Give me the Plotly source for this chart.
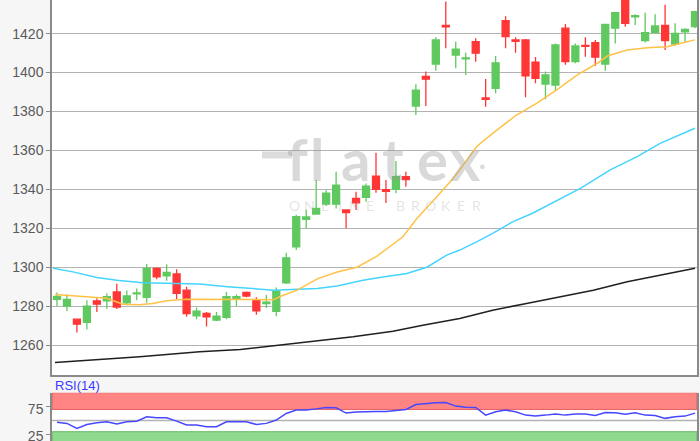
import plotly.graph_objects as go

# ---- data ----
idx = list(range(65))
opens = [1283.5, 1280, 1273.3, 1271.6, 1282.7, 1282.7, 1287.3, 1281.7, 1286.3, 1284.5,
         1299.4, 1295.6, 1296.5, 1288.2, 1275, 1276.2, 1272.8, 1274.2, 1283.5, 1287,
         1283, 1281.3, 1277.3, 1292, 1310.5, 1324.6, 1327.3, 1332.4, 1332.4, 1329.4,
         1335.4, 1335.9, 1346.8, 1339.8, 1340, 1346.5, 1382.8, 1398, 1404.4, 1424.3,
         1409, 1407, 1415.9, 1387, 1391.9, 1426.7, 1416.8, 1416.8, 1405.4, 1394.1,
         1393.6, 1422.8, 1405.6, 1414, 1415.4, 1404.4, 1422.8, 1438, 1428.7, 1416.4,
         1420.5, 1424.3, 1414.7, 1420.9, 1423.6]
highs = [1287, 1286, 1273.5, 1283, 1284, 1286.5, 1291.5, 1288, 1289, 1301.6,
         1300, 1301.5, 1299, 1290, 1279.3, 1277, 1277, 1287.3, 1286, 1287.5,
         1284.5, 1285.7, 1289.6, 1307.4, 1327, 1329.5, 1344.8, 1339.6, 1349, 1329.6,
         1338.8, 1343, 1358.8, 1344.8, 1354.6, 1349, 1394, 1400.5, 1418.2, 1436.5,
         1416, 1410.2, 1417.6, 1396.7, 1408.5, 1429, 1418.2, 1417.2, 1408, 1400.5,
         1415, 1425, 1415, 1418.2, 1416.8, 1425, 1431, 1441, 1430, 1430.8,
         1430, 1434.8, 1425.3, 1422.8, 1431.8]
lows = [1280, 1277.5, 1266.5, 1268, 1277, 1278.5, 1278.5, 1280.5, 1283, 1281.7,
        1293.8, 1293, 1283.6, 1274.5, 1273.3, 1269.5, 1272.3, 1273.2, 1280, 1284.5,
        1275.5, 1279, 1274.8, 1291.3, 1308.8, 1320, 1327, 1331.4, 1330.2, 1320,
        1329.4, 1333.6, 1338.3, 1333, 1338, 1341.3, 1378.2, 1382.8, 1401, 1412.5,
        1402.2, 1398.8, 1405.6, 1382.5, 1389.4, 1412.5, 1410.2, 1387.3, 1394.5, 1386.3,
        1390.7, 1404, 1404.8, 1408.2, 1403.4, 1401, 1415, 1423.6, 1424.5, 1415.4,
        1420.2, 1411.6, 1413.7, 1415.4, 1422.8]
closes = [1285, 1283.5, 1270.7, 1280, 1281, 1284.8, 1279.5, 1285.2, 1286.8, 1299.4,
          1295, 1297.3, 1286.5, 1276.2, 1277.4, 1274.5, 1274.8, 1284.8, 1284.8, 1285.2,
          1277.6, 1282, 1287.7, 1304.8, 1326, 1325.8, 1330.2, 1338, 1342.2, 1328,
          1333.1, 1341.7, 1340, 1339, 1346.5, 1345, 1391, 1396.6, 1416.8, 1423.5,
          1412, 1407.6, 1410, 1386.3, 1405, 1418.5, 1416, 1398.3, 1397, 1398.8,
          1414.2, 1405.6, 1413.7, 1413.5, 1407.9, 1424.8, 1430.8, 1425.3, 1429.3, 1420.5,
          1424, 1416.4, 1420.2, 1422.2, 1431.3]

ma_fast_x = [-0.2, 1, 3, 5, 6.6, 8.3, 9.6, 11, 13, 18.4, 21.7, 22.7, 24.1, 26.1, 28.1,
             30.1, 32.1, 34.7, 36.1, 38.1, 39.6, 40.4, 42.1, 43.7, 46.1, 48.1, 50.2,
             52.2, 54.2, 55.2, 57.2, 59.2, 61.2, 62.5, 64]
ma_fast = [1286, 1285.6, 1284.8, 1284, 1281, 1280.7, 1281.4, 1282.7, 1283.5, 1283.5,
           1283.3, 1285.6, 1288.2, 1294, 1297.5, 1300, 1305.7, 1315.6, 1325, 1336.2,
           1344.8, 1350, 1362, 1368.8, 1378.2, 1384.2, 1391.4, 1398.8, 1404.8, 1408.5,
           1411.6, 1412.8, 1413.3, 1415, 1416.8]

ma_mid_x = [-0.4, 1.6, 4.0, 6.0, 8.6, 11.6, 14.3, 17.1, 18.4, 21.7, 24.1, 26.1, 28.1,
            30.7, 32.7, 35.1, 37.1, 39.1, 40.4, 42.1, 43.7, 45.7, 47.7, 50.2, 52.5,
            55.5, 58.2, 60.5, 64]
ma_mid = [1299.4, 1297.6, 1294.7, 1293.3, 1292, 1291.7, 1291.3, 1290, 1289.6, 1288.2,
          1288.6, 1289.1, 1290.3, 1293.3, 1295, 1296.8, 1300, 1306.2, 1308.8, 1313,
          1317.4, 1323.3, 1327.7, 1334.5, 1340.5, 1350, 1356.8, 1363.6, 1371.4]

ma_slow_x = [-0.2, 2.3, 5.3, 8.3, 11.3, 14.3, 18.4, 21.7, 25.7, 29.7, 33.7, 36.7, 40.4,
             43.7, 47.1, 50.5, 53.8, 57.2, 60.5, 64]
ma_slow = [1251, 1251.9, 1252.7, 1254, 1255.3, 1256.5, 1257.7, 1259.6, 1261.6, 1264.2,
           1267.1, 1270.2, 1273.6, 1277.9, 1281.4, 1284.8, 1288.2, 1292.5, 1295.9, 1299.4]

rsi = [46.8, 45, 36, 43, 46, 47.9, 43.8, 47.9, 49, 56.8,
       55, 55, 49, 42, 42, 39, 39, 47.9, 48, 48,
       43, 45, 51, 62.8, 68.8, 68.8, 71, 73.5, 73, 63.5,
       65.5, 66.4, 66.4, 66.4, 68, 70, 78.9, 81, 82, 82.5,
       76, 74, 73.5, 59.8, 65.8, 68.8, 65.7, 59.8, 58, 59.8,
       62, 59.8, 61.6, 61.6, 59.2, 64.6, 64, 61.6, 64, 59.8,
       59.2, 54, 56.8, 58, 63.4]

price_ticks = [1260, 1280, 1300, 1320, 1340, 1360, 1380, 1400, 1420]
rsi_ticks = [25, 75]
rsi_upper, rsi_lower = 70, 30

GREEN = "#5fc95f"
RED = "#ff3636"
AXIS = "#8a8a8a"
GRID = "#b3b3b3"

W, H, L, R = 700, 441, 52, 3
PW = W - L - R


def px(xp):
    return (xp - L) / PW


def py(yp):
    return 1 - yp / H


fig = go.Figure()

fig.add_trace(go.Scatter(x=ma_slow_x, y=ma_slow, mode="lines",
                         line=dict(color="#202020", width=1.5), hoverinfo="skip",
                         xaxis="x", yaxis="y"))
fig.add_trace(go.Scatter(x=ma_mid_x, y=ma_mid, mode="lines",
                         line=dict(color="#45d4ff", width=1.5), hoverinfo="skip",
                         xaxis="x", yaxis="y"))
fig.add_trace(go.Scatter(x=ma_fast_x, y=ma_fast, mode="lines",
                         line=dict(color="#ffc247", width=1.5), hoverinfo="skip",
                         xaxis="x", yaxis="y"))

fig.add_trace(go.Candlestick(
    x=idx, open=opens, high=highs, low=lows, close=closes,
    increasing=dict(line=dict(color=GREEN, width=1.3), fillcolor=GREEN),
    decreasing=dict(line=dict(color=RED, width=1.3), fillcolor=RED),
    whiskerwidth=0, xaxis="x", yaxis="y"))

fig.add_trace(go.Scatter(x=idx, y=rsi, mode="lines",
                         line=dict(color="#4747ff", width=1.5), hoverinfo="skip",
                         xaxis="x2", yaxis="y2"))

main_bottom = 1 - 375 / H
rsi_top = (H - 392.7) / H

fig.update_layout(
    width=W, height=H,
    margin=dict(l=L, r=R, t=0, b=0, autoexpand=False),
    paper_bgcolor="#f6f6f6", plot_bgcolor="#ffffff",
    showlegend=False, boxgap=0.3, boxgroupgap=0,
    font=dict(family="Liberation Sans, Arial, sans-serif"),
    xaxis=dict(domain=[0, 1], range=[-0.5, 64.2], anchor="y", automargin=False,
               showticklabels=False, showgrid=False, zeroline=False,
               showline=True, linecolor=AXIS, linewidth=1.5,
               rangeslider=dict(visible=False)),
    yaxis=dict(domain=[main_bottom, 1], range=[1244.6, 1437.3], anchor="x", automargin=False,
               tickvals=price_ticks, ticktext=[str(t) for t in price_ticks],
               showgrid=True, gridcolor=GRID, gridwidth=1.2, zeroline=False,
               showline=True, linecolor=AXIS, linewidth=1.5, mirror=True,
               ticks="outside", ticklen=4, tickcolor=AXIS, ticklabeloverflow="allow",
               tickfont=dict(size=14, color="#5a5a5a")),
    xaxis2=dict(domain=[0, 1], range=[-0.5, 64.2], anchor="y2", automargin=False,
                showticklabels=False, showgrid=False, zeroline=False, showline=False),
    yaxis2=dict(domain=[0, rsi_top], range=[13.4, 100], anchor="x2", automargin=False,
                tickvals=rsi_ticks, ticktext=[str(t) for t in rsi_ticks],
                showgrid=False, zeroline=False,
                showline=True, linecolor=AXIS, linewidth=1.5, mirror=True,
                ticks="outside", ticklen=4, tickcolor=AXIS, ticklabeloverflow="allow",
                ticklabelshift=2,
                tickfont=dict(size=14, color="#5a5a5a")),
)

# RSI bands and midline
fig.add_shape(type="rect", xref="x2 domain", yref="y2", x0=0, x1=1, y0=rsi_upper, y1=100,
              fillcolor="#ff8585", line=dict(color="#e06060", width=1), layer="below")
fig.add_shape(type="rect", xref="x2 domain", yref="y2", x0=0, x1=1, y0=0, y1=rsi_lower,
              fillcolor="#8fd98f", line=dict(color="#60b860", width=1), layer="below")
fig.add_shape(type="line", xref="x2 domain", yref="y2", x0=0, x1=1, y0=50, y1=50,
              line=dict(color=GRID, width=1.5), layer="below")

# watermark
WM = "rgba(150,150,150,0.36)"
fig.add_shape(type="line", xref="paper", yref="paper",
              x0=px(262), x1=px(292), y0=py(155), y1=py(155),
              line=dict(color="#dcdcdc", width=7), layer="below")
for ch, xc in zip("flatex", [297, 317, 355, 393, 432, 465]):
    fig.add_annotation(text=ch, xref="paper", yref="paper", x=px(xc), y=py(183),
                       xanchor="center", yanchor="bottom", showarrow=False, yshift=-12,
                       font=dict(family="Lato, Open Sans, sans-serif", size=58,
                                 color=WM, weight=700))
fig.add_annotation(text="●", xref="paper", yref="paper", x=px(488), y=py(166),
                   showarrow=False, font=dict(size=11, color=WM))
for k, ch in enumerate("ONLINE BROKER"):
    if ch == " ":
        continue
    fig.add_annotation(text=ch, xref="paper", yref="paper", x=px(294 + k * 15.2), y=py(206),
                       showarrow=False,
                       font=dict(family="Lato, Open Sans, sans-serif", size=14,
                                 color="rgba(170,170,170,0.32)"))

fig.add_annotation(text="RSI(14)", xref="paper", yref="paper", x=0.002, y=py(385),
                   xanchor="left", yanchor="middle", showarrow=False,
                   font=dict(size=13, color="#3a3aff"))

fig.write_html("out.html", config={"displayModeBar": False},
               post_script="document.body.style.margin='0';")
